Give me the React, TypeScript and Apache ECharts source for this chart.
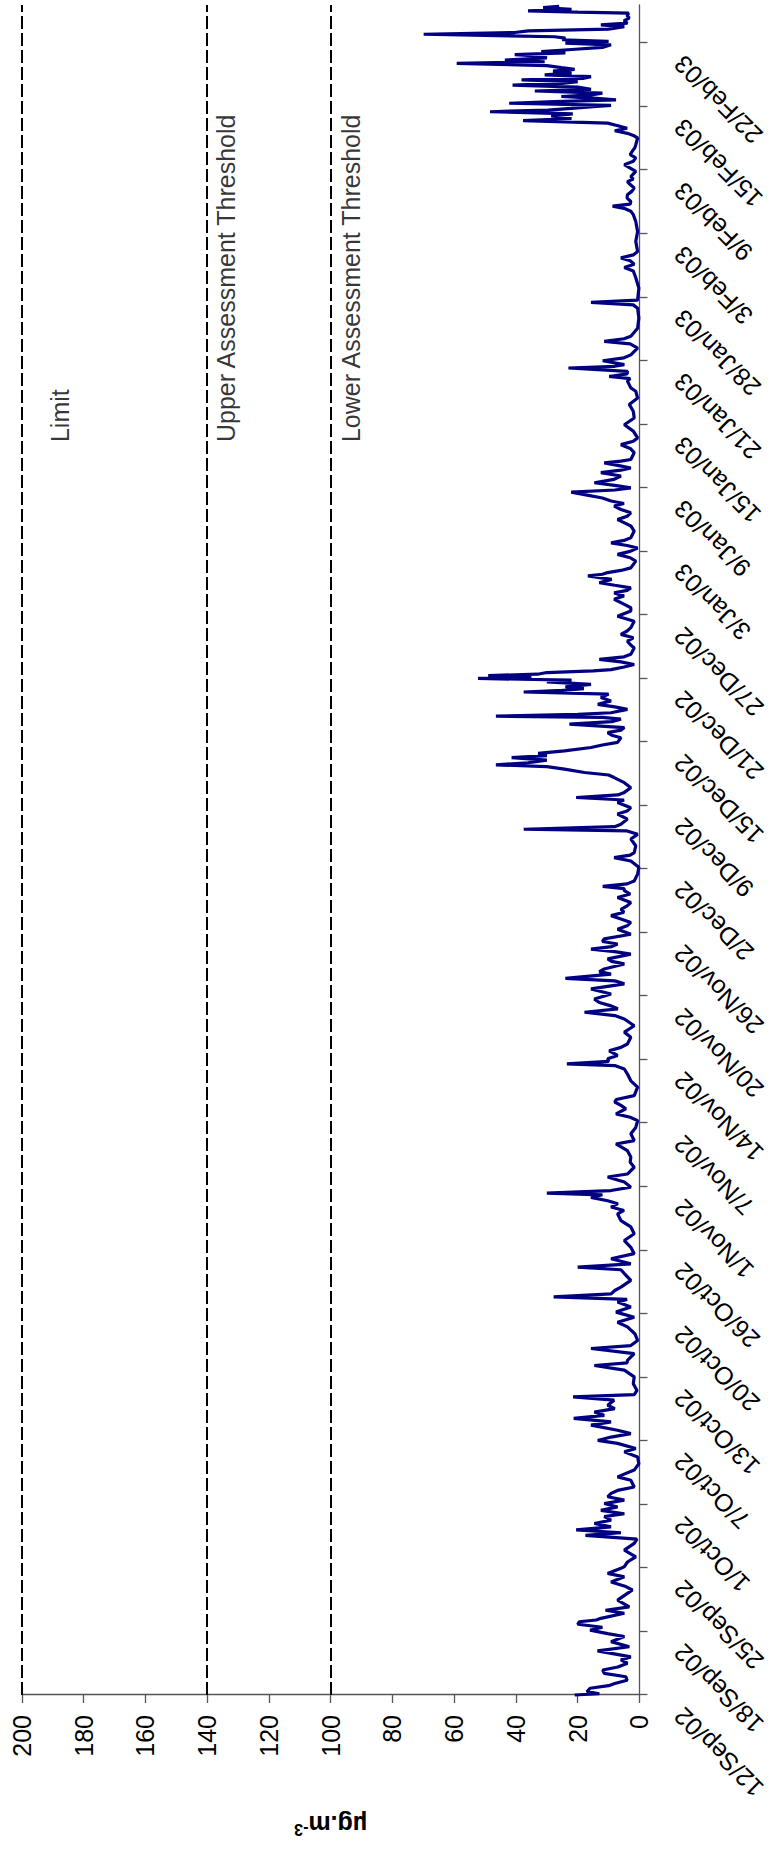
import React, { useEffect, useRef } from 'react';
import * as echarts from 'echarts';

// Category tick labels, one every 150 hourly readings
const tickLabels = ['12/Sep/02', '18/Sep/02', '25/Sep/02', '1/Oct/02', '7/Oct/02', '13/Oct/02', '20/Oct/02', '26/Oct/02', '1/Nov/02', '7/Nov/02', '14/Nov/02', '20/Nov/02', '26/Nov/02', '2/Dec/02', '9/Dec/02', '15/Dec/02', '21/Dec/02', '27/Dec/02', '3/Jan/03', '9/Jan/03', '15/Jan/03', '21/Jan/03', '28/Jan/03', '3/Feb/03', '9/Feb/03', '15/Feb/03', '22/Feb/03'];
const hoursPerTick = 150;
const lastHour = 3990;

// [hour since start, µg.m-3]
const sepData = [[0, 21], [3, 13], [8, 17], [16, 16], [22, 10], [27, 8], [35, 4], [43, 4.4], [51, 11.4], [59, 11.9], [66, 7], [75, 3.9], [83, 6], [90, 2.8], [104, 13.6], [114, 3.3], [126, 9.2], [138, 4.9], [145, 10.3], [153, 16], [160, 12], [167, 20], [173, 19.5], [177, 14], [181, 12.5], [193, 4.9], [200, 11], [208, 3.3], [224, 7.1], [240, 3.9], [248, 2.3], [256, 4.4], [267, 9.2], [279, 4.9], [287, 10.3], [299, 6], [303, 4.9], [314, 3.9], [326, 1.2], [342, 4.9], [358, 1.7], [368, 0.8], [377, 17.5], [383, 6], [390, 20.5], [397, 9.2], [405, 14.6], [413, 9.2], [421, 11.4], [428, 4.9], [436, 12.5]];
const octData = [[444, 7.1], [452, 11.4], [460, 4.9], [468, 10.3], [476, 9.2], [483, 7.1], [491, 1.7], [507, 2.8], [515, 7.1], [531, 1.7], [546, 0.2], [562, 0.6], [574, 4.9], [582, 1.2], [594, 7.1], [601, 13.5], [609, 9.2], [617, 2.8], [625, 7.1], [637, 15.7], [645, 9.2], [653, 21.3], [660, 11.4], [668, 14.6], [676, 8], [684, 10.3], [696, 8.2], [704, 21.5], [709, 1.7], [719, 0.8], [735, 2], [751, 1.7], [767, 4.9], [778, 14.6], [784, 4], [790, 3.9], [806, 1.7], [818, 15.7], [825, 2.8], [837, 0.6], [853, 1.5], [869, 3.9], [880, 7.1], [892, 1.7], [904, 7.6], [916, 2.8], [928, 7.1], [934, 4], [940, 27.8], [947, 9.2], [955, 8], [963, 6], [979, 2.8], [995, 4.9], [1004, 6], [1010, 20], [1018, 2.8], [1030, 9.2], [1042, 1.7], [1057, 2.8], [1073, 4.9], [1089, 1.7], [1105, 2.8], [1120, 6], [1136, 7.1], [1144, 5], [1152, 9.2], [1160, 7], [1167, 10.3], [1175, 15.7], [1181, 12], [1185, 30]];
const novData = [[1191, 9.2], [1199, 2.8], [1211, 4.9], [1223, 10.3], [1230, 3.9], [1246, 1.7], [1258, 3], [1270, 2.8], [1285, 3.9], [1301, 7.6], [1309, 1.7], [1325, 2.8], [1340, 1.2], [1356, 0.6], [1364, 3], [1372, 7.6], [1384, 4.4], [1392, 6], [1400, 8], [1406, 7.5], [1415, 1.7], [1435, 0.6], [1450, 2.8], [1466, 3.9], [1478, 4.9], [1486, 8], [1490, 23.5], [1496, 10], [1502, 10.3], [1510, 7.1], [1521, 9.8], [1529, 6], [1537, 3.9], [1553, 2.8], [1565, 4.9], [1580, 1.7], [1596, 4.9], [1604, 8], [1612, 17.8], [1620, 7], [1627, 9.2], [1635, 13], [1643, 14.6], [1655, 9.2], [1667, 15.7], [1679, 4.9], [1686, 8], [1692, 24], [1702, 9.2], [1708, 13], [1714, 11.4], [1726, 4.9], [1732, 9], [1738, 10.3], [1749, 2.8], [1755, 8], [1761, 15.7], [1767, 9], [1773, 7.1], [1779, 12], [1785, 11.4], [1796, 2.8], [1808, 7.1], [1816, 4], [1824, 2.8], [1832, 6], [1840, 9.2], [1848, 5], [1855, 6], [1863, 4], [1871, 2.8], [1883, 7.1], [1891, 3], [1899, 4.9], [1904, 5]];
const decData = [[1909, 11.9], [1915, 4], [1922, 1.7], [1938, 0.6], [1954, 0.2], [1969, 2.8], [1977, 8.2], [1983, 3], [1989, 1.7], [2005, 1.2], [2021, 2.8], [2032, 0.6], [2040, 4], [2044, 37.5], [2050, 8], [2056, 6], [2068, 3.9], [2080, 7.1], [2087, 4], [2095, 2.8], [2107, 7.1], [2113, 5], [2119, 20.5], [2125, 7], [2131, 4.9], [2142, 2.8], [2154, 4.9], [2166, 8.2], [2172, 10], [2178, 17.8], [2186, 24.3], [2192, 30], [2196, 46.5], [2201, 36.1], [2207, 30], [2213, 41.4], [2218, 30], [2223, 32.8], [2229, 24.3], [2237, 15.7], [2243, 12], [2249, 7.1], [2260, 6], [2266, 9], [2272, 10.3], [2278, 6], [2284, 4.9], [2292, 22.7], [2298, 9], [2304, 6], [2308, 12], [2311, 46.5], [2315, 20], [2319, 9.2], [2327, 3.9], [2333, 8], [2339, 13.5], [2347, 9.2], [2355, 12.5], [2363, 10], [2368, 37.5], [2372, 25], [2376, 18], [2380, 24], [2386, 15.7], [2392, 30], [2396, 22], [2400, 52.3], [2403, 35], [2407, 49], [2410, 33], [2414, 30], [2418, 15], [2421, 9.2], [2427, 5], [2433, 1.7], [2439, 6], [2445, 13], [2451, 5], [2457, 2.8], [2472, 1.7], [2480, 3], [2488, 3.9], [2496, 2], [2504, 6], [2512, 4], [2520, 2.8], [2535, 1.7], [2547, 7.1], [2559, 2.8], [2567, 2.8], [2575, 4.9], [2587, 8.2], [2595, 5], [2602, 8.2], [2608, 4], [2614, 2.8], [2620, 8], [2626, 13], [2634, 9], [2642, 16.7], [2646, 12], [2650, 10.3]];
const janData = [[2655, 6], [2661, 2.8], [2677, 1.2], [2685, 3], [2693, 7.1], [2700, 3], [2708, 0.6], [2714, 4], [2720, 9.2], [2726, 5], [2732, 2.8], [2748, 1.7], [2760, 2.8], [2768, 5], [2775, 7.1], [2783, 4], [2791, 2.8], [2799, 6], [2807, 8.2], [2813, 5], [2819, 9.2], [2826, 12], [2834, 17.8], [2840, 22.1], [2845, 8], [2850, 2.8], [2856, 8], [2862, 14.6], [2870, 8.2], [2878, 6], [2886, 12.5], [2892, 6], [2897, 2.8], [2903, 7], [2909, 11.4], [2913, 6], [2917, 2.8], [2933, 1.7], [2943, 3], [2952, 6], [2960, 2], [2968, 0.6], [2984, 2], [2999, 4.9], [3015, 1.7], [3031, 2], [3047, 3.3], [3062, 0.6], [3078, 1.2], [3086, 2.8], [3102, 3.9], [3108, 3], [3113, 9.8], [3119, 4], [3125, 3.9], [3133, 23], [3137, 8], [3141, 4.9], [3150, 11.9], [3157, 5], [3164, 2.8], [3180, 0.6], [3190, 3], [3196, 11.4], [3202, 5], [3208, 2.8], [3227, 0.6], [3251, 0.2], [3274, 0.6], [3282, 2], [3288, 15.7], [3293, 0.6], [3322, 0.2], [3346, 1.2], [3362, 2], [3370, 4.9], [3378, 1.7], [3386, 3], [3393, 6]];
const febData = [[3400, 2], [3408, 0.6], [3432, 1.2], [3455, 0.6], [3479, 1.2], [3495, 2], [3503, 2.8], [3510, 5], [3515, 8.7], [3520, 3], [3526, 2.8], [3534, 4], [3542, 3.9], [3550, 2.5], [3558, 1.7], [3566, 3], [3573, 3.9], [3579, 2], [3585, 2.8], [3597, 1.2], [3605, 3], [3613, 4.9], [3621, 2], [3629, 1.2], [3637, 3], [3645, 2.3], [3653, 1.5], [3660, 1.2], [3676, 0.6], [3682, 2], [3687, 3.9], [3693, 8], [3699, 4], [3705, 7], [3711, 10.3], [3717, 37.7], [3722, 22], [3728, 28.6], [3733, 21.6], [3738, 48.4], [3742, 29.6], [3746, 22.1], [3750, 15], [3753, 9.2], [3758, 42.2], [3762, 27.5], [3766, 7.6], [3770, 15], [3774, 25.3], [3778, 15.7], [3782, 12], [3787, 33.9], [3791, 15.7], [3796, 20], [3801, 41.1], [3805, 25], [3809, 20], [3813, 38.2], [3817, 18], [3821, 15.7], [3825, 30.7], [3829, 22], [3834, 28], [3838, 21], [3842, 25.3], [3847, 30], [3852, 59.2], [3856, 30.7], [3860, 43.6], [3865, 30], [3869, 31.8], [3873, 40.4], [3877, 24], [3880, 31.8], [3885, 22], [3890, 12], [3896, 9.2], [3900, 24], [3904, 10], [3908, 25], [3912, 24], [3915, 27.5], [3921, 69.9], [3925, 40.4], [3929, 36], [3933, 10], [3939, 4.9], [3943, 12.5], [3947, 3.9], [3953, 5], [3959, 3.3], [3965, 4], [3971, 3.5], [3973, 20], [3976, 36.1], [3980, 22], [3984, 31.2], [3987, 26]];

// Threshold lines and their captions
const thresholdValues = [200, 140, 100];
const annotationLabels = ['Limit', 'Upper Assessment Threshold', 'Lower Assessment Threshold'];
const annotationValues = [187.8, 134, 93.5];
const annotationHour = 2958;

const FONT = "'Liberation Sans', Arial, Helvetica, sans-serif";

export default function App() {
  const ref = useRef<HTMLDivElement>(null);
  useEffect(() => {
    if (!ref.current) return;
    const chart = echarts.init(ref.current, null, { renderer: 'svg', width: 1868, height: 770 });
    const series = ([] as number[][]).concat(sepData, octData, novData, decData, janData, febData);
    chart.setOption({
      animation: false,
      backgroundColor: '#ffffff',
      textStyle: { fontFamily: FONT },
      grid: { left: 173, right: 5, top: 22, bottom: 128, containLabel: false },
      xAxis: {
        type: 'value',
        min: 0,
        max: lastHour,
        interval: hoursPerTick,
        axisLine: { show: true, lineStyle: { color: '#555555', width: 1.3 } },
        axisTick: { show: true, length: 8, lineStyle: { color: '#555555', width: 1.3 } },
        splitLine: { show: false },
        axisLabel: {
          rotate: 45,
          margin: 22,
          padding: [0, 24, 0, 0],
          fontSize: 25,
          color: '#000',
          fontFamily: FONT,
          showMaxLabel: false,
          hideOverlap: false,
          formatter: (v: number) => (v % hoursPerTick === 0 ? tickLabels[v / hoursPerTick] ?? '' : ''),
        },
      },
      yAxis: {
        type: 'value',
        min: 0,
        max: 200,
        interval: 20,
        axisLine: { show: true, lineStyle: { color: '#555555', width: 1.3 } },
        axisTick: { show: true, length: 8, lineStyle: { color: '#555555', width: 1.3 } },
        splitLine: { show: false },
        axisLabel: { fontSize: 25, margin: 20, color: '#000', fontFamily: FONT },
        name: '{a|µg.m}{b|-3}',
        nameLocation: 'middle',
        nameGap: 117,
        nameRotate: 90,
        nameTextStyle: {
          fontFamily: FONT,
          rich: {
            a: { fontSize: 25, fontWeight: 'bold', color: '#000', fontFamily: FONT },
            b: { fontSize: 16, fontWeight: 'bold', color: '#000', fontFamily: FONT, verticalAlign: 'top' },
          },
        },
      },
      series: [
        {
          type: 'line',
          data: series,
          showSymbol: false,
          symbol: 'none',
          lineStyle: { color: '#000080', width: 3.2 },
          z: 3,
          markLine: {
            silent: true,
            symbol: 'none',
            label: { show: false },
            lineStyle: { color: '#000000', type: [13, 4], width: 2 },
            data: thresholdValues.map((v) => ({ yAxis: v })),
          },
        },
        {
          type: 'scatter',
          silent: true,
          symbolSize: 0.1,
          itemStyle: { color: 'rgba(0,0,0,0)' },
          data: annotationLabels.map((t, i) => [annotationHour, annotationValues[i], t]),
          label: {
            show: true,
            position: 'right',
            distance: 0,
            fontSize: 25,
            color: '#000',
            fontFamily: FONT,
            formatter: (p: any) => p.value[2],
          },
        },
      ],
    });
    return () => chart.dispose();
  }, []);
  return (
    <div style={{ position: 'absolute', left: 0, top: 0, width: 770, height: 1868, overflow: 'hidden', background: '#fff' }}>
      <div
        ref={ref}
        style={{
          position: 'absolute',
          left: 0,
          top: 0,
          width: 1868,
          height: 770,
          transformOrigin: '0 0',
          transform: 'translateY(1868px) rotate(-90deg)',
        }}
      />
    </div>
  );
}
